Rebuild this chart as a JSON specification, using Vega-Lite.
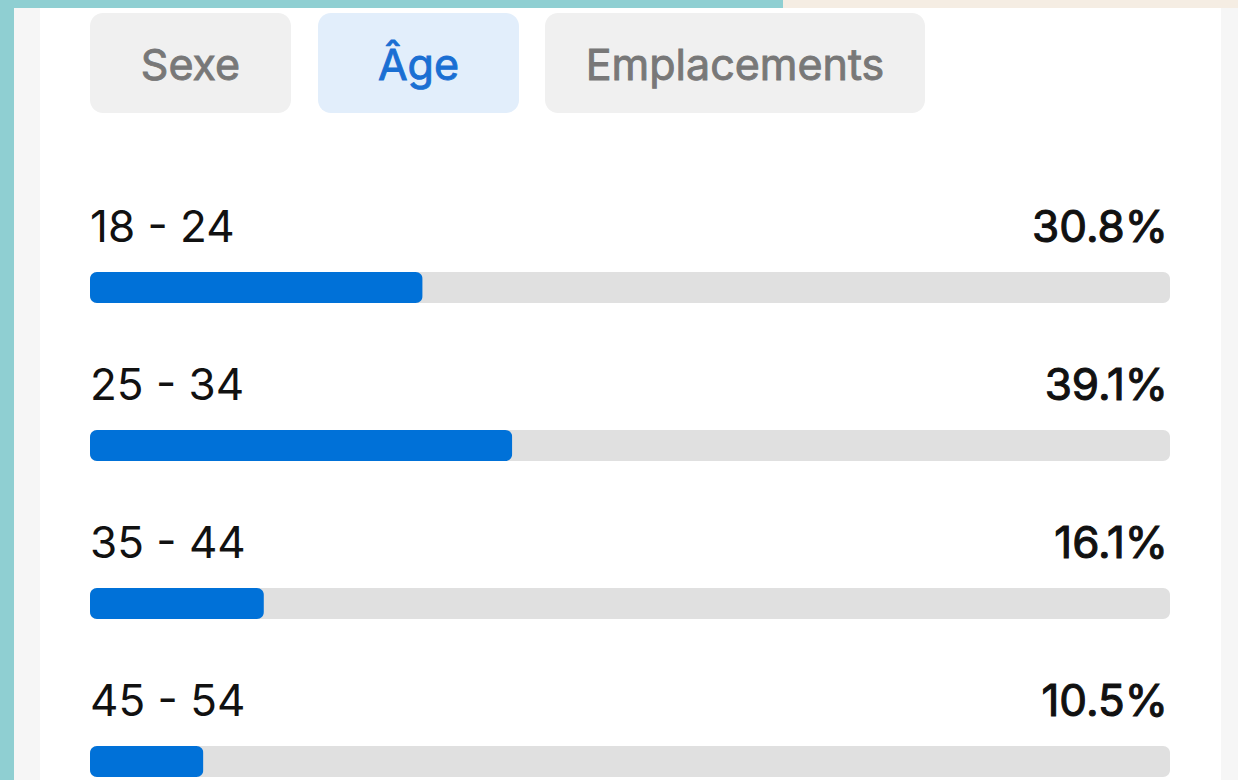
{
  "$schema": "https://vega.github.io/schema/vega-lite/v6.json",
  "autosize": {"type": "none"},
  "padding": 0,
  "width": 1238,
  "height": 780,
  "background": "#ffffff",
  "config": {"view": {"stroke": null}},
  "datasets": {
    "ages": [
      {"age": "18 - 24", "pct": 30.8},
      {"age": "25 - 34", "pct": 39.1},
      {"age": "35 - 44", "pct": 16.1},
      {"age": "45 - 54", "pct": 10.5}
    ],
    "tabs": [
      {"tab": "Sexe"},
      {"tab": "Âge"},
      {"tab": "Emplacements"}
    ],
    "one": [{"k": 1}]
  },
  "layer": [
    {
      "data": {"name": "one"},
      "mark": {"type": "rect", "fill": "#8fcfd2", "clip": false},
      "encoding": {"x": {"value": 0}, "x2": {"value": 14}, "y": {"value": 0}, "y2": {"value": 780}}
    },
    {
      "data": {"name": "one"},
      "mark": {"type": "rect", "fill": "#8fcfd2", "clip": false},
      "encoding": {"x": {"value": 0}, "x2": {"value": 783}, "y": {"value": 0}, "y2": {"value": 8}}
    },
    {
      "data": {"name": "one"},
      "mark": {"type": "rect", "fill": "#f5ede3", "clip": false},
      "encoding": {"x": {"value": 783}, "x2": {"value": 1238}, "y": {"value": 0}, "y2": {"value": 8}}
    },
    {
      "data": {"name": "one"},
      "mark": {"type": "rect", "fill": "#f6f6f6", "clip": false},
      "encoding": {"x": {"value": 14}, "x2": {"value": 40}, "y": {"value": 8}, "y2": {"value": 780}}
    },
    {
      "data": {"name": "one"},
      "mark": {"type": "rect", "fill": "#f6f6f6", "clip": false},
      "encoding": {"x": {"value": 1221}, "x2": {"value": 1238}, "y": {"value": 8}, "y2": {"value": 780}}
    },
    {
      "data": {"name": "one"},
      "mark": {"type": "rect", "fill": "#f0f0f0", "cornerRadius": 13},
      "encoding": {"x": {"value": 90}, "x2": {"value": 291}, "y": {"value": 13}, "y2": {"value": 113}}
    },
    {
      "data": {"name": "one"},
      "mark": {"type": "rect", "fill": "#e2eefb", "cornerRadius": 13},
      "encoding": {"x": {"value": 318}, "x2": {"value": 519}, "y": {"value": 13}, "y2": {"value": 113}}
    },
    {
      "data": {"name": "one"},
      "mark": {"type": "rect", "fill": "#f0f0f0", "cornerRadius": 13},
      "encoding": {"x": {"value": 545}, "x2": {"value": 925}, "y": {"value": 13}, "y2": {"value": 113}}
    },
    {
      "data": {"name": "tabs"},
      "transform": [{"filter": "datum.tab === 'Sexe'"}],
      "mark": {"type": "text", "font": "Inter", "fontSize": 43, "fontWeight": 400, "fill": "#787878", "stroke": "#787878", "strokeWidth": 0.9, "align": "center", "baseline": "alphabetic"},
      "encoding": {"text": {"field": "tab"}, "x": {"value": 190.5}, "y": {"value": 80}}
    },
    {
      "data": {"name": "tabs"},
      "transform": [{"filter": "datum.tab === 'Âge'"}],
      "mark": {"type": "text", "font": "Inter", "fontSize": 43, "fontWeight": 400, "fill": "#1a6fd3", "stroke": "#1a6fd3", "strokeWidth": 0.9, "align": "center", "baseline": "alphabetic"},
      "encoding": {"text": {"field": "tab"}, "x": {"value": 418.5}, "y": {"value": 80}}
    },
    {
      "data": {"name": "tabs"},
      "transform": [{"filter": "datum.tab === 'Emplacements'"}],
      "mark": {"type": "text", "font": "Inter", "fontSize": 43, "fontWeight": 400, "fill": "#787878", "stroke": "#787878", "strokeWidth": 0.9, "align": "center", "baseline": "alphabetic"},
      "encoding": {"text": {"field": "tab"}, "x": {"value": 735}, "y": {"value": 80}}
    },
    {
      "data": {"name": "ages"},
      "mark": {"type": "bar", "fill": "#e0e0e0", "height": 31, "cornerRadius": 7},
      "encoding": {
        "y": {"field": "age", "type": "nominal", "sort": null, "axis": null,
              "scale": {"domain": ["18 - 24", "25 - 34", "35 - 44", "45 - 54"], "range": [208.5, 840.5], "paddingInner": 0, "paddingOuter": 0}},
        "x": {"value": 90},
        "x2": {"value": 1170}
      }
    },
    {
      "data": {"name": "ages"},
      "mark": {"type": "bar", "fill": "#0071d8", "height": 31, "cornerRadius": 7},
      "encoding": {
        "y": {"field": "age", "type": "nominal", "sort": null, "axis": null},
        "x": {"field": "pct", "type": "quantitative", "axis": null,
              "scale": {"domain": [-8.3333, 106.2963], "nice": false, "zero": false}},
        "x2": {"value": 90}
      }
    },
    {
      "data": {"name": "ages"},
      "mark": {"type": "text", "font": "Inter", "fontSize": 44, "fontWeight": 400, "fill": "#111111", "align": "left", "baseline": "alphabetic", "dy": -45.5},
      "encoding": {
        "y": {"field": "age", "type": "nominal", "sort": null, "axis": null},
        "x": {"value": 90},
        "text": {"field": "age"}
      }
    },
    {
      "data": {"name": "ages"},
      "transform": [{"calculate": "format(datum.pct, '.1f') + '%'", "as": "label"}],
      "mark": {"type": "text", "font": "Inter", "fontSize": 44, "fontWeight": 400, "fill": "#111111", "stroke": "#111111", "strokeWidth": 1.1, "align": "right", "baseline": "alphabetic", "dy": -45.5},
      "encoding": {
        "y": {"field": "age", "type": "nominal", "sort": null, "axis": null},
        "x": {"value": 1168},
        "text": {"field": "label"}
      }
    }
  ]
}
